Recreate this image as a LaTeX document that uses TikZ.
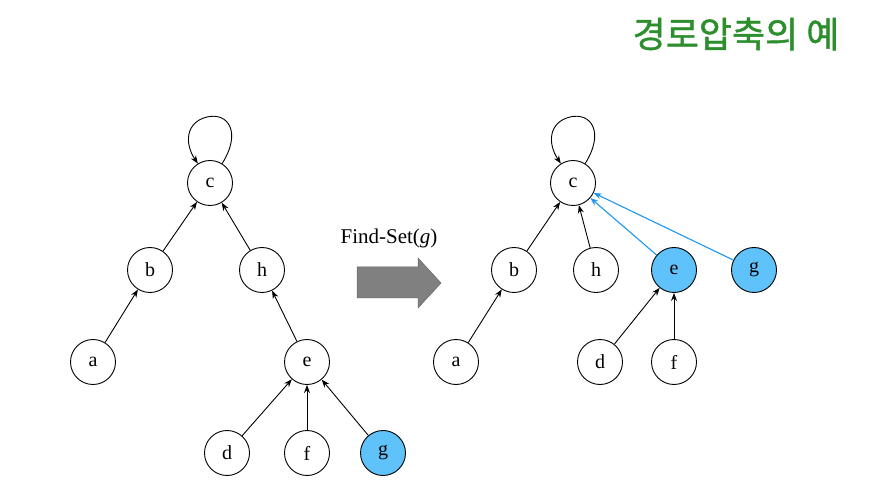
\documentclass[tikz,border=0pt]{standalone}
\usepackage{fontspec}
\setmainfont{Liberation Serif}
\newfontfamily\kofont[FakeBold=1.2]{Noto Sans CJK KR}
\usetikzlibrary{arrows.meta}
\definecolor{titlegreen}{RGB}{44,142,44}
\definecolor{nodeblue}{RGB}{96,194,250}
\definecolor{edgeblue}{RGB}{30,150,240}
\definecolor{arrgray}{RGB}{128,128,128}
\begin{document}
\begin{tikzpicture}[x=1pt,y=-1pt,
  vert/.style={circle,draw=black,line width=0.9pt,minimum size=45pt,inner sep=0pt,font=\fontsize{20}{20}\selectfont},
  hot/.style={vert,fill=nodeblue},
  edge/.style={-{Stealth[length=8pt,width=6pt]},line width=0.9pt,black},
  bedge/.style={-{Stealth[length=8pt,width=6pt]},line width=1.1pt,edgeblue}]
\useasboundingbox (0,0) rectangle (881,486);
\node[font=\kofont\fontsize{36}{36}\selectfont,text=titlegreen] (title) at (736,34) {경로압축의 예};
% left tree
\node[vert] (c) at (210,183) {c};
\node[vert] (b) at (150,270) {b};
\node[vert] (h) at (262,270) {h};
\node[vert] (a) at (93,362) {a};
\node[vert] (e) at (307,362) {e};
\node[vert] (d) at (227,453) {d};
\node[vert] (f) at (307,453) {f};
\node[hot] (g) at (383,453) {g};
\draw[edge] (c.58) .. controls (242,132) and (228,112) .. (207,117) .. controls (186,122) and (184,143) .. (c.122);
\draw[edge] (b) -- (c);
\draw[edge] (h) -- (c);
\draw[edge] (a) -- (b);
\draw[edge] (e) -- (h);
\draw[edge] (d) -- (e);
\draw[edge] (f) -- (e);
\draw[edge] (g) -- (e);
% middle arrow
\node[font=\fontsize{21}{21}\selectfont] (fs) at (389,238) {Find-Set(\textit{g})};
\fill[arrgray,draw=black!60,line width=0.5pt] (357,267) -- (418,267) -- (418,258) -- (441,283) -- (418,308) -- (418,298) -- (357,298) -- cycle;
% right tree
\node[vert] (c2) at (573,183) {c};
\node[vert] (b2) at (514,270) {b};
\node[vert] (h2) at (596,270) {h};
\node[hot] (e2) at (674,270) {e};
\node[hot] (g2) at (754,270) {g};
\node[vert] (a2) at (456,362) {a};
\node[vert] (d2) at (600,362) {d};
\node[vert] (f2) at (674,362) {f};
\draw[edge] (c2.58) .. controls (605,132) and (591,112) .. (570,117) .. controls (549,122) and (547,143) .. (c2.122);
\draw[edge] (b2) -- (c2);
\draw[edge] (h2) -- (c2);
\draw[edge] (a2) -- (b2);
\draw[bedge] (e2) -- (c2);
\draw[bedge] (g2) -- (c2);
\draw[edge] (d2) -- (e2);
\draw[edge] (f2) -- (e2);
\end{tikzpicture}
\end{document}
